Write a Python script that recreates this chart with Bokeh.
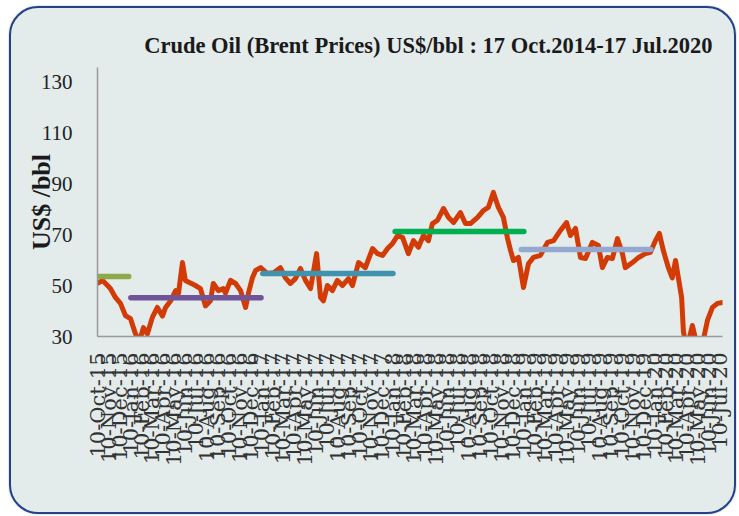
import math
import pandas as pd
from bokeh.plotting import figure
from bokeh.models import (ColumnDataSource, Range1d, FixedTicker,
                          DatetimeTickFormatter)
from bokeh.embed import file_html
from bokeh.resources import INLINE

# ---------------- data ----------------
dates = [
    "2015-10-09", "2015-10-23", "2015-11-06", "2015-11-14", "2015-11-28", "2015-12-12",
    "2015-12-26", "2016-01-09", "2016-01-23", "2016-02-03", "2016-02-14", "2016-02-25",
    "2016-03-10", "2016-03-24", "2016-04-07", "2016-04-16", "2016-04-30", "2016-05-14",
    "2016-05-22", "2016-06-02", "2016-06-10", "2016-06-24", "2016-07-08", "2016-07-22",
    "2016-08-05", "2016-08-19", "2016-08-27", "2016-09-10", "2016-09-24", "2016-09-30",
    "2016-10-14", "2016-10-28", "2016-11-11", "2016-11-25", "2016-12-03", "2016-12-14",
    "2016-12-23", "2017-01-06", "2017-01-25", "2017-02-11", "2017-03-02", "2017-03-16",
    "2017-03-30", "2017-04-13", "2017-04-27", "2017-05-11", "2017-05-25", "2017-06-11",
    "2017-06-22", "2017-06-30", "2017-07-11", "2017-07-25", "2017-08-08", "2017-08-22",
    "2017-09-08", "2017-09-19", "2017-10-06", "2017-10-25", "2017-11-14", "2017-11-28",
    "2017-12-12", "2017-12-26", "2018-01-09", "2018-01-23", "2018-02-06", "2018-02-22",
    "2018-03-08", "2018-03-22", "2018-04-05", "2018-04-19", "2018-04-30", "2018-05-14",
    "2018-05-31", "2018-06-14", "2018-06-28", "2018-07-17", "2018-07-31", "2018-08-14",
    "2018-09-03", "2018-09-19", "2018-10-03", "2018-10-17", "2018-10-31", "2018-11-14",
    "2018-11-25", "2018-12-04", "2018-12-12", "2018-12-26", "2019-01-09", "2019-01-23",
    "2019-02-06", "2019-02-25", "2019-03-17", "2019-04-03", "2019-04-22", "2019-05-09",
    "2019-05-20", "2019-06-03", "2019-06-17", "2019-07-01", "2019-07-20", "2019-08-06",
    "2019-08-17", "2019-08-31", "2019-09-14", "2019-09-28", "2019-10-12", "2019-10-20",
    "2019-11-09", "2019-11-26", "2019-12-15", "2019-12-29", "2020-01-12", "2020-01-23",
    "2020-02-03", "2020-02-17", "2020-02-28", "2020-03-08", "2020-03-16", "2020-03-25",
    "2020-03-30", "2020-04-08", "2020-04-24", "2020-05-08", "2020-05-22", "2020-06-05",
    "2020-06-19", "2020-07-03", "2020-07-17",
]
brent = [
    50.8, 52.0, 50.0, 48.8, 45.3, 43.0,
    38.2, 37.0, 31.0, 28.0, 33.5, 31.0,
    37.5, 41.4, 38.0, 41.4, 44.0, 48.0,
    47.0, 59.0, 52.0, 51.0, 50.0, 48.8,
    42.0, 44.0, 50.8, 48.0, 48.8, 47.0,
    52.0, 50.8, 48.0, 41.4, 47.0, 53.0,
    55.9, 57.0, 54.7, 55.0, 57.0, 53.0,
    50.8, 52.7, 56.7, 52.0, 48.8, 62.5,
    45.3, 44.0, 50.0, 48.0, 52.0, 50.0,
    52.7, 50.0, 59.0, 57.0, 64.5, 62.5,
    61.8, 64.5, 66.5, 69.6, 68.8, 62.5,
    67.6, 65.0, 69.6, 67.6, 74.3, 75.5,
    80.2, 76.7, 74.7, 78.6, 74.3, 74.3,
    76.7, 79.4, 80.6, 86.5, 80.6, 76.7,
    68.8, 63.7, 59.8, 61.0, 49.2, 58.6,
    61.0, 61.8, 66.9, 67.6, 71.6, 74.7,
    69.6, 72.4, 61.0, 60.6, 66.9, 65.7,
    57.0, 61.0, 60.6, 68.4, 62.5, 57.0,
    59.0, 61.0, 62.5, 63.0, 67.6, 70.4,
    63.7, 57.0, 53.0, 59.8, 53.0, 45.3,
    32.0, 25.0, 34.3, 26.0, 27.0, 36.3,
    41.4, 43.0, 43.3,
]

# yearly average bars
avg_start = ["2015-10-09", "2016-01-10", "2017-01-12", "2018-01-16", "2019-01-03"]
avg_end = ["2016-01-04", "2017-01-07", "2018-01-10", "2019-01-10", "2019-12-30"]
avg_value = [53.5, 45.2, 54.7, 71.2, 64.1]
avg_color = ["#8DAA4B", "#6F5597", "#3F93AC", "#00B050", "#93A9D0"]

y_ticks = [30, 50, 70, 90, 110, 130]
tick_dates = pd.date_range("2015-10-01", "2020-07-01", freq="MS") + pd.Timedelta(days=9)

title_text = "Crude Oil (Brent Prices) US$/bbl : 17 Oct.2014-17 Jul.2020"
y_title = "US$ /bbl"

# ---------------- figure ----------------
p = figure(width=729, height=510, x_axis_type="datetime",
           x_range=Range1d(pd.Timestamp("2015-10-09"), pd.Timestamp("2020-07-17")),
           y_range=Range1d(30, 135.5),
           output_backend="svg", toolbar_location=None,
           min_border_left=89, min_border_right=15,
           min_border_top=62, min_border_bottom=179)
p.border_fill_color = None
p.background_fill_color = None
p.outline_line_color = None
p.grid.visible = False
p.styles = {"background-color": "#E3EBEB", "border-radius": "30px",
            "outline": "2.5px solid #24418A", "outline-offset": "-3px",
            "margin-left": "8px", "margin-top": "5px"}

src = ColumnDataSource(dict(x=pd.to_datetime(dates), y=brent))
p.line("x", "y", source=src, line_color="#D23A06", line_width=5,
       line_join="round", line_cap="round")

seg = ColumnDataSource(dict(x0=pd.to_datetime(avg_start), x1=pd.to_datetime(avg_end),
                            y=avg_value, c=avg_color))
p.segment(x0="x0", y0="y", x1="x1", y1="y", source=seg, line_color="c",
          line_width=5.5, line_cap="round")

# title
p.title.text = title_text
p.title.align = "right"
p.title.offset = 10
p.title.standoff = 20
p.title.text_font = "Liberation Serif"
p.title.text_font_style = "bold"
p.title.text_font_size = "22.5px"
p.title.text_color = "#1A1A1A"

# axes
p.yaxis.ticker = FixedTicker(ticks=y_ticks)
p.yaxis.major_tick_line_color = None
p.yaxis.minor_tick_line_color = None
p.yaxis.axis_line_color = "#9A9A9A"
p.yaxis.axis_line_width = 1.5
p.yaxis.major_label_standoff = 19
p.yaxis.major_label_text_font = "Liberation Serif"
p.yaxis.major_label_text_font_size = "21px"
p.yaxis.major_label_text_color = "#222222"
p.yaxis.axis_label = y_title
p.yaxis.axis_label_standoff = -18
p.yaxis.axis_label_text_font = "Liberation Serif"
p.yaxis.axis_label_text_font_style = "bold"
p.yaxis.axis_label_text_font_size = "26px"
p.yaxis.axis_label_text_color = "#1A1A1A"

p.xaxis.ticker = FixedTicker(ticks=[t.timestamp() * 1000 for t in tick_dates])
fmt = "%d-%b-%y"
p.xaxis.formatter = DatetimeTickFormatter(
    microseconds=fmt, milliseconds=fmt, seconds=fmt, minsec=fmt, minutes=fmt,
    hourmin=fmt, hours=fmt, days=fmt, months=fmt, years=fmt)
p.xaxis.major_label_orientation = math.pi / 2
p.xaxis.major_tick_line_color = None
p.xaxis.minor_tick_line_color = None
p.xaxis.axis_line_color = "#9A9A9A"
p.xaxis.axis_line_width = 1.5
p.xaxis.major_label_standoff = 10
p.xaxis.major_label_text_font = "DejaVu Serif"
p.xaxis.major_label_text_font_size = "21px"
p.xaxis.major_label_text_color = "#333333"

open("out.html", "w").write(file_html(p, INLINE))
